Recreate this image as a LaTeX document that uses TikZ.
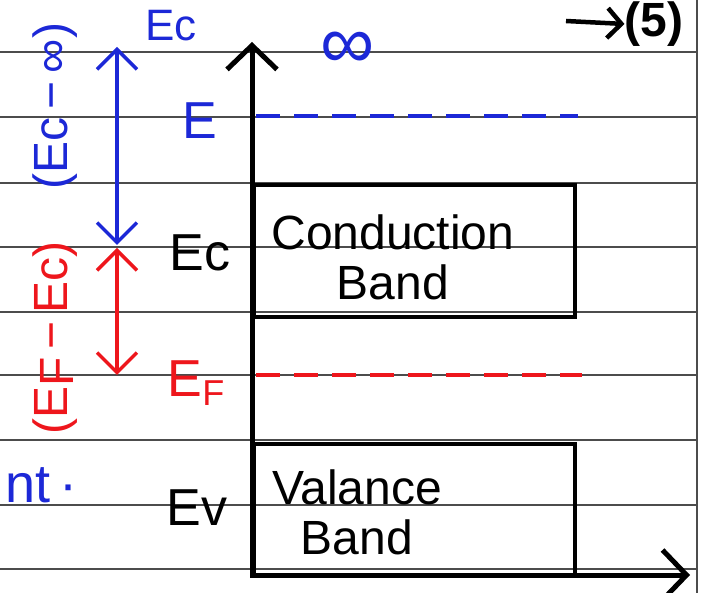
\documentclass[tikz,border=0pt]{standalone}
\usepackage{fontspec}
\setmainfont{Liberation Sans}
\usepackage{xcolor}
\usetikzlibrary{positioning}
\usetikzlibrary{arrows.meta}
\definecolor{penblue}{RGB}{28,40,215}
\definecolor{penred}{RGB}{238,22,28}
\tikzset{ruled/.style = {black!70, line width=1.3pt}}
\tikzset{axes/.style = {line width=5pt,
                        {Straight Barb[length=24pt,width=50pt]}-{Straight Barb[length=24pt,width=50pt]}}}
\tikzset{band/.style = {draw, line width=4pt, inner sep=0, anchor=north west,
                        minimum width=321pt, minimum height=132pt}}
\tikzset{gap/.style = {line width=3.5pt,
                       {Straight Barb[length=20pt,width=40pt]}-{Straight Barb[length=20pt,width=40pt]}}}
\tikzset{level/.style = {line width=3.5pt, dash pattern=on 24pt off 14pt}}
\tikzset{bandtext/.style = {align=center, font=\fontsize{48}{50}\selectfont}}
\tikzset{lbl/.style = {inner sep=0, font=\fontsize{52}{52}\selectfont}}

\begin{document}
\begin{tikzpicture}[x=1pt, y=-1pt]
    \useasboundingbox (0,0) rectangle (702,593);
    \clip (0,0) rectangle (702,593);
    \fill[white] (0,0) rectangle (702,593);

    % notebook lines
    \foreach \y in {52,117,183,247,312,375,440,505,569}
      \draw[ruled] (0,\y) -- (697,\y);
    \draw[ruled] (697,0) -- (697,593);

    \coordinate (origin) at (252,575);
    \coordinate (ytip) at (252,42);
    \coordinate (xtip) at (690,575);
    \draw[axes] (ytip) -- (origin) -- (xtip);

    % bands
    \node[band] (cb) at (252,183) {};
    \node[band] (vb) at (252,442) {};
    \node[bandtext] (cbtext) at (393,257) {Conduction\\Band};
    \node[bandtext] (vbtext) at (357,512) {Valance\\Band};

    % levels
    \coordinate (e0) at (256,116);
    \coordinate (e1) at (578,116);
    \coordinate (f0) at (256,375);
    \coordinate (f1) at (582,375);
    \draw[penblue,level] (e0) -- (e1);
    \draw[penred,level] (f0) -- (f1);

    \node[lbl,penblue] (elbl) at (200,121) {E};
    \node[lbl] (eclbl) at (200,253) {Ec};
    \node[lbl,penred] (eflbl) at (196,383) {E\raisebox{-9pt}{\fontsize{36}{36}\selectfont F}};
    \node[lbl] (evlbl) at (197,508) {Ev};
    \node[lbl,penblue,font=\fontsize{44}{44}\selectfont] (etop) at (171,26) {Ec};
    \node[inner sep=0,penblue,font=\fontsize{76}{76}\selectfont] (inf) at (348,50) {∞};

    % page reference
    \node[inner sep=0,font=\bfseries\fontsize{48}{48}\selectfont] (five) at (654,24) {(5)};
    \coordinate (fivefrom) at (566,21);
    \draw[line width=4.5pt,-{Straight Barb[length=14pt,width=30pt]}] (fivefrom) -- (five.west);

    % energy gaps
    \coordinate (btop) at (117,47);
    \coordinate (bmid) at (117,245);
    \coordinate (rtop) at (117,248);
    \coordinate (rbot) at (117,375);
    \draw[penblue,gap] (btop) -- (bmid);
    \draw[penred,gap] (rtop) -- (rbot);

    \node[lbl,penblue,rotate=90,font=\fontsize{48}{48}\selectfont] (blbl) at (55,106) {(Ec\,−\,∞)};
    \node[lbl,penred,rotate=90,font=\fontsize{48}{48}\selectfont] (rlbl) at (55,338) {(E\raisebox{-6pt}{F}\,−\,Ec)};
    \node[lbl,penblue,anchor=base east,font=\fontsize{54}{54}\selectfont] (nt) at (78,503) {nt\,·};
  \end{tikzpicture}
\end{document}
